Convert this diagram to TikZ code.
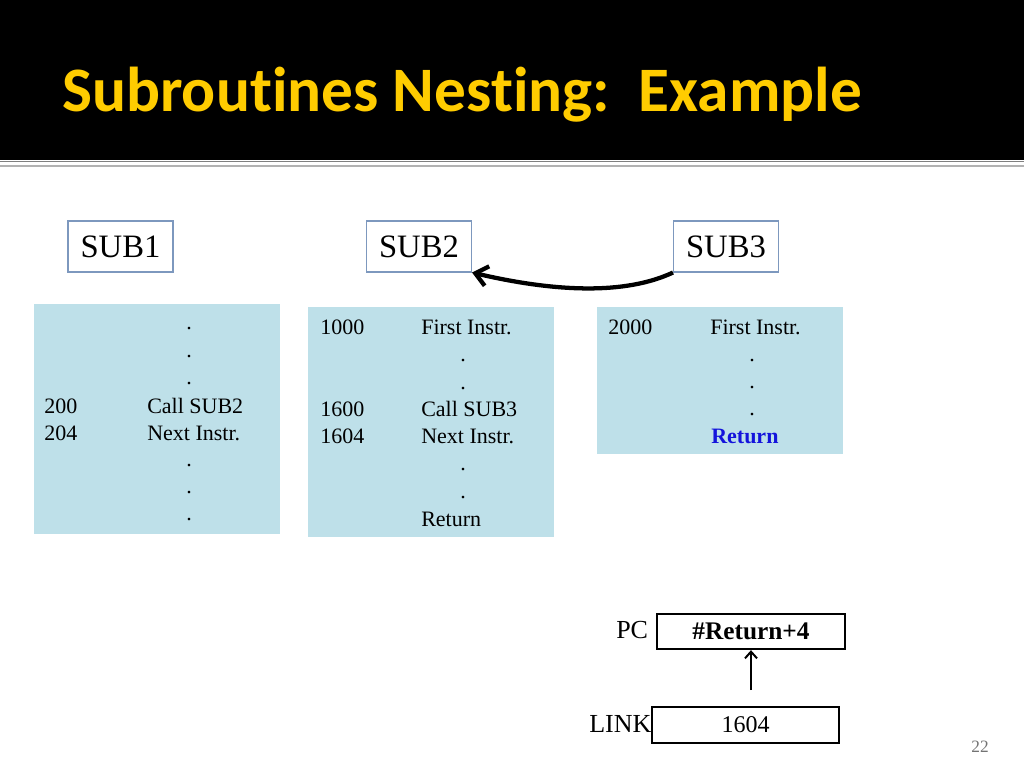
\documentclass[tikz,border=0pt]{standalone}
\usepackage{fontspec}
\setmainfont{Liberation Serif}
\newfontfamily\titlefont[Ligatures=NoCommon]{Carlito}
\usetikzlibrary{arrows.meta}
\definecolor{titleyellow}{RGB}{255,204,0}
\definecolor{codefill}{RGB}{190,224,233}
\definecolor{subframe}{RGB}{125,152,190}
\definecolor{retblue}{RGB}{20,20,220}
\tikzset{
	code/.style={fill=codefill},
	instr/.style={anchor=base west, inner sep=0pt, font=\fontsize{16.5}{20}\selectfont},
	dotrow/.style={anchor=base, inner sep=0pt, font=\fontsize{16.5}{20}\selectfont},
	subbox/.style={draw=subframe, line width=0.8pt, inner sep=0pt, minimum width=78.75pt, minimum height=38.25pt, font=\fontsize{24.5}{28}\selectfont},
	reg/.style={draw, line width=1.5pt, inner sep=0pt, minimum height=26.5pt},
	reglabel/.style={anchor=base west, inner sep=0pt, font=\fontsize{19.5}{22}\selectfont},
}
\begin{document}
\begin{tikzpicture}[x=0.75pt,y=-0.75pt]
		\useasboundingbox (0,0) rectangle (1024,768);
		% title bar
		\fill[black] (0,0) rectangle (1024,160);
		\draw[line width=1.2pt, black!50] (0,161.5) -- (1024,161.5);
		\draw[line width=1.5pt, black!30] (0,166) -- (1024,166);
		\node (title)[anchor=base west, inner sep=0pt, text=titleyellow, font=\titlefont\bfseries\fontsize{47.5}{50}\selectfont] at (62,111) {Subroutines Nesting:\ \ Example};
		% subroutine names
		\node (sub1)[subbox] at (120.5,246.5) {SUB1};
		\node (sub2)[subbox] at (419,246.5) {SUB2};
		\node (sub3)[subbox] at (726,246.5) {SUB3};
		\draw [line width=3.2pt, -{Straight Barb[length=9pt,width=15pt]}](sub3.south west) .. controls (625,295) and (555,292) .. (sub2.south east);
		% SUB1
		\path[code] (34,304) rectangle (280,534);
		\node (d11)[dotrow] at (189,329) {.};
		\node (d12)[dotrow] at (189,357) {.};
		\node (d13)[dotrow] at (189,384) {.};
		\node (a200)[instr] at (44,413) {200};
		\node (c200)[instr] at (147,413) {Call SUB2};
		\node (a204)[instr] at (44,440) {204};
		\node (c204)[instr] at (147,440) {Next Instr.};
		\node (d14)[dotrow] at (189,466) {.};
		\node (d15)[dotrow] at (189,493) {.};
		\node (d16)[dotrow] at (189,520) {.};
		% SUB2
		\path[code] (308,307) rectangle (554,537);
		\node (a1000)[instr] at (320,334) {1000};
		\node (c1000)[instr] at (421,334) {First Instr.};
		\node (d21)[dotrow] at (463,361) {.};
		\node (d22)[dotrow] at (463,389) {.};
		\node (a1600)[instr] at (320,416) {1600};
		\node (c1600)[instr] at (421,416) {Call SUB3};
		\node (a1604)[instr] at (320,443) {1604};
		\node (c1604)[instr] at (421,443) {Next Instr.};
		\node (d23)[dotrow] at (463,470) {.};
		\node (d24)[dotrow] at (463,498) {.};
		\node (ret2)[instr] at (421,526) {Return};
		% SUB3
		\path[code] (597,307) rectangle (843,454);
		\node (a2000)[instr] at (608,334) {2000};
		\node (c2000)[instr] at (710,334) {First Instr.};
		\node (d31)[dotrow] at (752,361) {.};
		\node (d32)[dotrow] at (752,388) {.};
		\node (d33)[dotrow] at (752,415) {.};
		\node (ret3)[instr, text=retblue, font=\bfseries\fontsize{16.5}{20}\selectfont] at (711,443) {Return};
		% registers
		\node (pc)[reg, minimum width=141pt, font=\bfseries\fontsize{19}{22}\selectfont] at (751,631.5) {\#Return+4};
		\node (pclabel)[reglabel] at (616,638) {PC};
		\node (link)[reg, minimum width=140.25pt, minimum height=27pt, font=\fontsize{18}{22}\selectfont] at (745.5,725) {1604};
		\node (linklabel)[reglabel] at (589,732) {LINK};
		\draw [line width=1.5pt, shorten <=12pt, -{Straight Barb[length=5pt,width=9pt]}](link.north -| pc.south) -- (pc.south);
		\node (page)[anchor=base east, inner sep=0pt, text=black!55, font=\fontsize{13}{15}\selectfont] at (989,752) {22};
	\end{tikzpicture}
\end{document}
